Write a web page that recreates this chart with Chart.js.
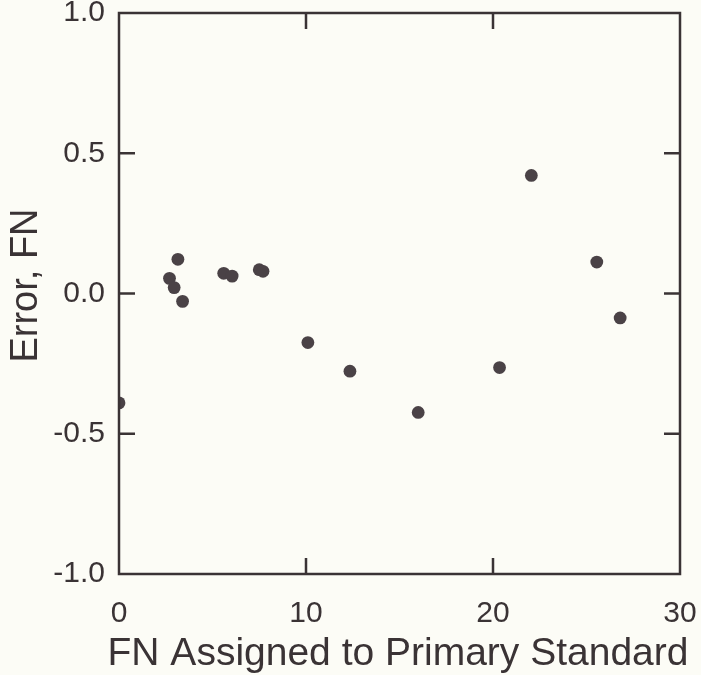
<!DOCTYPE html>
<html>
<head>
<meta charset="utf-8">
<script src="https://cdn.jsdelivr.net/npm/chart.js@4"></script>
<style>
  html, body { margin: 0; padding: 0; background: #fcfcf6; }
  #wrap { width: 701px; height: 675px; position: relative; }
</style>
</head>
<body>
<div id="wrap"><canvas id="c" width="701" height="675"></canvas></div>
<script>
const fnAssigned = [0, 2.7, 2.95, 3.15, 3.4, 5.6, 6.05, 7.5, 7.7, 10.1, 12.35, 16.0, 20.35, 22.05, 25.55, 26.8];
const errorFN    = [-0.39, 0.054, 0.021, 0.122, -0.028, 0.072, 0.062, 0.085, 0.079, -0.175, -0.277, -0.424, -0.264, 0.421, 0.112, -0.087];
const xTicks = [0, 10, 20, 30];
const yTicks = [-1.0, -0.5, 0.0, 0.5, 1.0];
const xTitle = 'FN Assigned to Primary Standard';
const yTitle = 'Error, FN';

const ink = '#3a3335';
const dotColor = '#4a4246';
const fontFam = '"Liberation Sans", Arial, Helvetica, sans-serif';

const points = fnAssigned.map((x, i) => ({ x: x, y: errorFN[i] }));

const frame = {
  id: 'frame',
  afterDatasetsDraw(chart) {
    const { ctx, chartArea: a, scales } = chart;
    ctx.save();
    ctx.strokeStyle = ink;
    ctx.lineWidth = 2.5;
    ctx.strokeRect(a.left, a.top, a.right - a.left, a.bottom - a.top);
    const tl = 16;
    ctx.beginPath();
    scales.x.ticks.forEach(t => {
      if (t.value <= scales.x.min || t.value >= scales.x.max) return;
      const px = scales.x.getPixelForValue(t.value);
      ctx.moveTo(px, a.bottom); ctx.lineTo(px, a.bottom - tl);
      ctx.moveTo(px, a.top); ctx.lineTo(px, a.top + tl);
    });
    scales.y.ticks.forEach(t => {
      if (t.value <= scales.y.min || t.value >= scales.y.max) return;
      const py = scales.y.getPixelForValue(t.value);
      ctx.moveTo(a.left, py); ctx.lineTo(a.left + tl, py);
      ctx.moveTo(a.right, py); ctx.lineTo(a.right - tl, py);
    });
    ctx.stroke();

    // axis titles (drawn without width compression)
    ctx.fillStyle = ink;
    ctx.font = '39px ' + fontFam;
    ctx.textAlign = 'center';
    ctx.textBaseline = 'alphabetic';
    ctx.fillText(xTitle, 398, 665);

    ctx.font = '38px ' + fontFam;
    ctx.translate(37, 285.5);
    ctx.rotate(-Math.PI / 2);
    ctx.fillText(yTitle, 0, 0);
    ctx.restore();
  }
};

new Chart(document.getElementById('c'), {
  type: 'scatter',
  data: {
    datasets: [{
      data: points,
      backgroundColor: dotColor,
      borderColor: dotColor,
      borderWidth: 0,
      pointRadius: 6.4,
      pointHoverRadius: 6.4
    }]
  },
  options: {
    responsive: false,
    animation: false,
    layout: { padding: { top: 13, right: 21, left: 0, bottom: 0 } },
    plugins: { legend: { display: false }, tooltip: { enabled: false } },
    scales: {
      x: {
        type: 'linear',
        min: xTicks[0], max: xTicks[xTicks.length - 1],
        afterBuildTicks: s => { s.ticks = xTicks.map(v => ({ value: v })); },
        afterFit: s => { s.height = 101; s.paddingLeft = 0; s.paddingRight = 0; },
        grid: { display: false, drawTicks: false },
        border: { display: false },
        ticks: {
          color: ink, padding: 22,
          font: { family: fontFam, size: 30 },
          callback: v => String(v)
        },
        title: { display: false, text: xTitle }
      },
      y: {
        type: 'linear',
        min: yTicks[0], max: yTicks[yTicks.length - 1],
        afterBuildTicks: s => { s.ticks = yTicks.map(v => ({ value: v })); },
        afterFit: s => { s.width = 119; s.paddingTop = 0; s.paddingBottom = 0; },
        grid: { display: false, drawTicks: false },
        border: { display: false },
        ticks: {
          color: ink, padding: 14,
          font: { family: fontFam, size: 30 },
          callback: v => Number(v).toFixed(1)
        },
        title: { display: false, text: yTitle }
      }
    }
  },
  plugins: [frame]
});
</script>
</body>
</html>
